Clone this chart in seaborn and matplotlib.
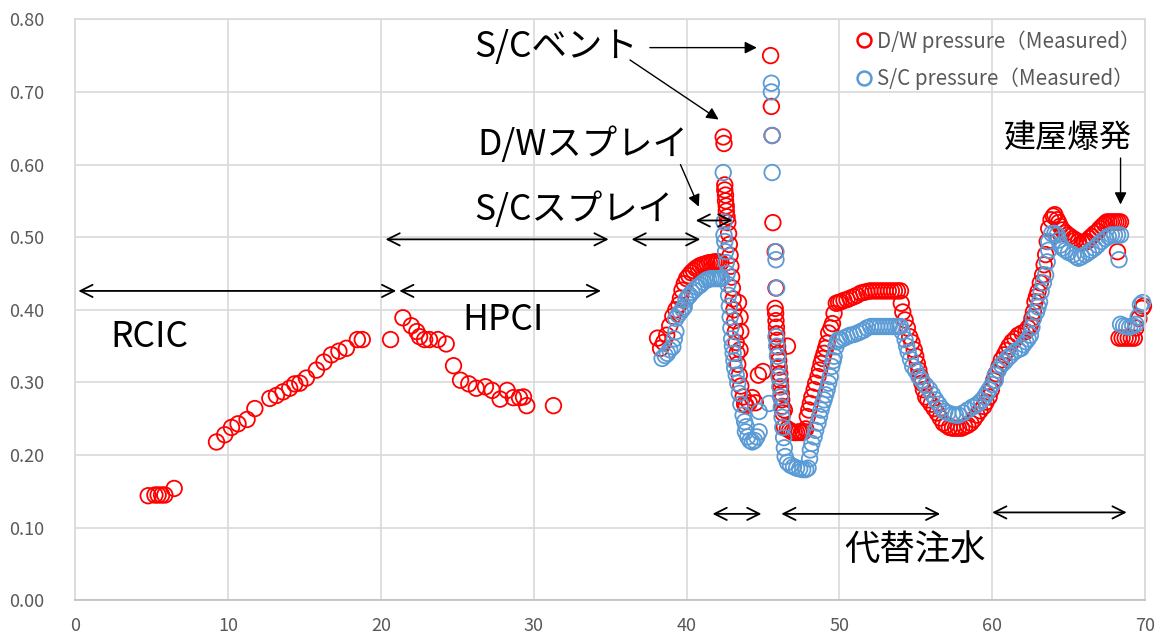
import numpy as np
import pandas as pd
import matplotlib
matplotlib.use("Agg")
import matplotlib.pyplot as plt
import seaborn as sns
from matplotlib.lines import Line2D

# ---- D/W pressure (measured), MPa abs vs hours ----
dw_x = [4.77, 5.21, 5.42, 5.65, 5.86, 6.47, 9.24, 9.78, 10.22, 10.65, 11.24, 11.75,
        12.73, 13.16, 13.59, 14.03, 14.36, 14.69, 15.12, 15.78, 16.27, 16.76, 17.25,
        17.74, 18.46, 18.78, 20.63, 21.44, 21.99, 22.35, 22.53, 22.86, 23.18, 23.73,
        24.27, 24.75, 25.21, 25.75, 26.24, 26.84, 27.28, 27.8, 28.26, 28.67, 29.07,
        29.33, 29.54, 31.29,
        38.1, 38.3, 38.5, 38.7, 38.9, 39.1, 39.3, 39.5, 39.6, 39.7, 39.85, 40.0, 40.15,
        40.3, 40.45, 40.6, 40.75, 40.9, 41.05, 41.2, 41.35, 41.5, 41.65, 41.8, 41.95,
        42.1, 42.25,
        42.4, 42.45, 42.5, 42.5, 42.55, 42.55, 42.6, 42.6, 42.65,
        42.7, 42.75, 42.8, 42.85, 42.9, 42.95, 43.0, 43.05, 43.1, 43.15, 43.2, 43.25,
        43.3, 43.35, 43.45, 43.55, 43.7, 43.8, 43.9, 44.1, 44.3, 44.5, 44.7, 45.0,
        43.4, 43.5, 43.55, 43.5,
        45.5, 45.55, 45.6, 45.65, 45.8, 45.85, 45.8, 45.83, 45.85, 45.88, 45.9, 45.93,
        45.96, 46.0, 46.03, 46.06, 46.1, 46.13, 46.16, 46.2, 46.23, 46.26, 46.3, 46.6,
        46.4, 46.4,
        46.6, 46.75, 46.9, 47.05, 47.2, 47.35, 47.5, 47.65, 47.8,
        47.9, 48.0, 48.1, 48.2, 48.35, 48.45, 48.6, 48.7, 48.8, 48.9, 49.0, 49.1, 49.2,
        49.3, 49.45, 49.55, 49.65, 49.8, 49.95, 50.1, 50.3, 50.5, 50.7, 50.95, 51.15,
        51.4, 51.6, 51.8, 52.0, 52.2, 52.4, 52.6, 52.8, 53.0, 53.2, 53.4, 53.6, 53.8,
        54.0,
        54.05, 54.15, 54.3, 54.45, 54.6, 54.75, 54.9, 55.0, 55.1, 55.2, 55.3, 55.4,
        55.5, 55.65, 55.8, 56.0, 56.2, 56.4, 56.6, 56.8, 57.0, 57.2, 57.4, 57.6, 57.8,
        58.0, 58.2, 58.4, 58.6, 58.8, 59.0, 59.2, 59.45, 59.6, 59.8, 59.95, 60.1,
        60.25, 60.45, 60.6, 60.8, 60.95, 61.1, 61.3, 61.5, 61.7, 61.95, 62.2, 62.35,
        62.5, 62.6, 62.7, 62.8, 62.9, 63.0, 63.15, 63.3, 63.4, 63.5, 63.6, 63.7, 63.85,
        64.0, 64.1, 64.25, 64.35, 64.45, 64.6, 64.8, 64.95, 65.1, 65.3, 65.45, 65.65,
        65.9, 66.05, 66.2, 66.35, 66.5, 66.7, 66.9, 67.05, 67.2, 67.35, 67.5, 67.65,
        67.8, 67.95, 68.1, 68.25, 68.4, 68.2,
        68.3, 68.5, 68.7, 68.9, 69.1, 69.3, 69.4, 69.6, 69.8, 69.9]
dw_y = [0.144, 0.145, 0.145, 0.145, 0.145, 0.154, 0.218, 0.228, 0.238, 0.243, 0.249,
        0.264, 0.278, 0.282, 0.287, 0.292, 0.298, 0.299, 0.306, 0.317, 0.328, 0.338,
        0.343, 0.347, 0.359, 0.359, 0.359, 0.389, 0.378, 0.370, 0.363, 0.359, 0.359,
        0.359, 0.353, 0.323, 0.303, 0.298, 0.292, 0.294, 0.289, 0.277, 0.289, 0.279,
        0.279, 0.280, 0.268, 0.268,
        0.361, 0.347, 0.355, 0.365, 0.378, 0.391, 0.400, 0.407, 0.416, 0.427, 0.436,
        0.443, 0.447, 0.451, 0.454, 0.457, 0.459, 0.461, 0.462, 0.463, 0.464, 0.465,
        0.465, 0.466, 0.466, 0.466, 0.465,
        0.638, 0.629, 0.572, 0.565, 0.558, 0.550, 0.543, 0.536, 0.528,
        0.520, 0.505, 0.490, 0.475, 0.460, 0.445, 0.430, 0.415, 0.400, 0.385, 0.370,
        0.355, 0.340, 0.325, 0.310, 0.295, 0.280, 0.270, 0.268, 0.272, 0.279, 0.272,
        0.310, 0.315,
        0.410, 0.390, 0.370, 0.345,
        0.750, 0.680, 0.640, 0.520, 0.480, 0.430, 0.402, 0.395, 0.385, 0.376, 0.367,
        0.358, 0.349, 0.340, 0.330, 0.321, 0.312, 0.303, 0.294, 0.285, 0.276, 0.267,
        0.258, 0.350, 0.262, 0.239,
        0.236, 0.234, 0.232, 0.231, 0.231, 0.232, 0.231, 0.232, 0.236,
        0.253, 0.262, 0.271, 0.280, 0.290, 0.299, 0.308, 0.317, 0.326, 0.333, 0.340,
        0.347, 0.354, 0.368, 0.375, 0.381, 0.395, 0.409, 0.410, 0.411, 0.413, 0.414,
        0.416, 0.418, 0.420, 0.423, 0.424, 0.425, 0.426, 0.426, 0.426, 0.426, 0.426,
        0.426, 0.426, 0.426, 0.426, 0.426, 0.426,
        0.409, 0.397, 0.386, 0.375, 0.363, 0.355, 0.345, 0.336, 0.326, 0.317, 0.308,
        0.299, 0.290, 0.280, 0.276, 0.270, 0.264, 0.258, 0.251, 0.244, 0.241, 0.238,
        0.237, 0.237, 0.237, 0.237, 0.239, 0.241, 0.244, 0.249, 0.255, 0.261, 0.267,
        0.273, 0.280, 0.290, 0.303, 0.312, 0.322, 0.331, 0.338, 0.344, 0.350, 0.356,
        0.360, 0.365, 0.368, 0.370, 0.375, 0.379, 0.388, 0.397, 0.411, 0.418, 0.425,
        0.437, 0.448, 0.462, 0.476, 0.494, 0.512, 0.524, 0.529, 0.531, 0.524, 0.520,
        0.515, 0.510, 0.506, 0.503, 0.501, 0.498, 0.496, 0.494, 0.492, 0.493, 0.494,
        0.498, 0.501, 0.505, 0.508, 0.512, 0.515, 0.518, 0.521, 0.521, 0.521, 0.521,
        0.521, 0.521, 0.521, 0.480,
        0.361, 0.361, 0.361, 0.361, 0.361, 0.361, 0.375, 0.388, 0.402, 0.405]

# ---- S/C pressure (measured) ----
sc_x = [38.4, 38.6, 38.75, 38.9, 39.1, 39.2, 39.3, 39.3, 39.45, 39.6, 39.75, 39.85,
        39.96, 40.1, 40.2, 40.35, 40.5, 40.7, 40.9, 41.1, 41.3, 41.45, 41.6, 41.75,
        41.9, 42.05, 42.2, 42.3,
        42.4, 42.45, 42.45, 42.5,
        42.55, 42.6, 42.65, 42.7, 42.75, 42.8, 42.85, 42.9, 42.95, 43.0, 43.05, 43.1,
        43.15, 43.25, 43.35, 43.45, 43.55, 43.7, 43.8, 43.9, 43.85, 44.0, 44.15, 44.3,
        44.45, 44.6, 44.75, 44.75, 45.4,
        45.55, 45.55, 45.6, 45.6, 45.85, 45.85, 45.9,
        45.85, 45.9, 45.95, 46.0, 46.05, 46.1, 46.15, 46.2, 46.25, 46.3, 46.35, 46.4,
        46.45, 46.6, 46.8, 47.0, 47.2, 47.4, 47.6, 47.8, 47.95, 48.1, 48.05,
        48.2, 48.35, 48.45, 48.6, 48.7, 48.8, 48.9, 49.0, 49.1, 49.2, 49.3, 49.4, 49.5,
        49.6, 49.65, 49.77, 49.85, 49.95, 50.1, 50.3, 50.5, 50.7, 50.95, 51.2, 51.4,
        51.6, 51.8, 52.05, 52.25, 52.45, 52.65, 52.85, 53.05, 53.25, 53.45, 53.65,
        53.85, 54.0,
        54.1, 54.3, 54.4, 54.5, 54.65, 54.8, 55.0, 55.2, 55.4, 55.65, 55.9, 56.1, 56.3,
        56.5, 56.7, 56.9, 57.1, 57.4, 57.6, 57.8, 58.1, 58.4, 58.7, 58.9, 59.1, 59.3,
        59.5, 59.65, 59.8, 60.0, 60.2, 60.2, 60.4, 60.6, 60.8, 61.0, 61.2, 61.45, 61.7,
        61.9, 62.05, 62.2, 62.35, 62.5, 62.6, 62.7, 62.9, 63.0, 63.1, 63.2, 63.35,
        63.5, 63.6, 63.7, 63.7, 63.9, 64.1, 64.25, 64.35, 64.45, 64.6, 64.8, 65.0,
        65.3, 65.5, 65.65, 65.85, 66.1, 66.3, 66.5, 66.7, 66.9, 67.15, 67.4, 67.6,
        67.8, 68.0, 68.2, 68.4, 68.3,
        68.4, 68.6, 68.8, 69.0, 69.2, 69.4, 69.55, 69.7, 69.85]
sc_y = [0.333, 0.337, 0.340, 0.345, 0.349, 0.360, 0.370, 0.388, 0.393, 0.397, 0.401,
        0.404, 0.414, 0.418, 0.420, 0.424, 0.427, 0.431, 0.434, 0.438, 0.441, 0.442,
        0.443, 0.443, 0.443, 0.443, 0.443, 0.443,
        0.589, 0.521, 0.503, 0.494,
        0.480, 0.465, 0.450, 0.435, 0.420, 0.405, 0.390, 0.375, 0.360, 0.350, 0.340,
        0.330, 0.320, 0.310, 0.299, 0.285, 0.270, 0.255, 0.246, 0.239, 0.232, 0.225,
        0.220, 0.218, 0.220, 0.225, 0.232, 0.260, 0.271,
        0.712, 0.700, 0.640, 0.589, 0.480, 0.469, 0.430,
        0.363, 0.350, 0.336, 0.322, 0.308, 0.294, 0.280, 0.266, 0.252, 0.238, 0.224,
        0.210, 0.198, 0.190, 0.186, 0.184, 0.182, 0.181, 0.180, 0.180, 0.182, 0.207,
        0.195,
        0.216, 0.225, 0.234, 0.244, 0.253, 0.262, 0.270, 0.276, 0.283, 0.290, 0.299,
        0.308, 0.322, 0.330, 0.336, 0.349, 0.356, 0.359, 0.359, 0.361, 0.363, 0.365,
        0.366, 0.368, 0.370, 0.372, 0.375, 0.377, 0.377, 0.377, 0.377, 0.377, 0.377,
        0.377, 0.377, 0.377, 0.377, 0.377,
        0.370, 0.359, 0.350, 0.342, 0.332, 0.322, 0.316, 0.308, 0.303, 0.296, 0.290,
        0.283, 0.276, 0.270, 0.264, 0.260, 0.258, 0.256, 0.255, 0.255, 0.258, 0.262,
        0.266, 0.268, 0.271, 0.275, 0.280, 0.285, 0.290, 0.297, 0.303, 0.310, 0.317,
        0.324, 0.328, 0.333, 0.337, 0.342, 0.345, 0.347, 0.352, 0.356, 0.360, 0.365,
        0.376, 0.388, 0.397, 0.404, 0.411, 0.425, 0.437, 0.448, 0.466, 0.482, 0.494,
        0.505, 0.505, 0.503, 0.496, 0.489, 0.485, 0.482, 0.479, 0.476, 0.473, 0.471,
        0.473, 0.476, 0.479, 0.482, 0.485, 0.489, 0.494, 0.498, 0.501, 0.503, 0.503,
        0.503, 0.503, 0.469,
        0.380, 0.378, 0.377, 0.376, 0.378, 0.380, 0.390, 0.407, 0.410]

x_ticks = [0, 10, 20, 30, 40, 50, 60, 70]
y_ticks = [0.0, 0.1, 0.2, 0.3, 0.4, 0.5, 0.6, 0.7, 0.8]
legend_labels = ["D/W pressure（Measured）", "S/C pressure（Measured）"]
series_colors = ["#FF0000", "#5B9BD5"]

sns.set_theme(style="white")
plt.rcParams["font.family"] = ["Noto Sans CJK JP", "DejaVu Sans"]

dw = pd.DataFrame({"t": dw_x, "p": dw_y})
sc = pd.DataFrame({"t": sc_x, "p": sc_y})

fig = plt.figure(figsize=(11.68, 6.44), dpi=100)
ax = fig.add_axes([75.3 / 1168, 43.7 / 644, 1069.7 / 1168, 581 / 644])

marker_kw = dict(marker="o", s=125, facecolor="none", linewidth=1.3, legend=False,
                 clip_on=False)
sns.scatterplot(data=dw, x="t", y="p", ax=ax, color=series_colors[0],
                edgecolor=series_colors[0], **marker_kw)
sns.scatterplot(data=sc, x="t", y="p", ax=ax, color=series_colors[1],
                edgecolor=series_colors[1], **marker_kw)

ax.set_xlim(0, 70)
ax.set_ylim(0, 0.8)
ax.set_xticks(x_ticks)
ax.set_yticks(y_ticks)
ax.set_yticklabels([f"{v:.2f}" for v in y_ticks])
ax.set_xlabel("")
ax.set_ylabel("")
ax.grid(True, color="#D9D9D9", linewidth=1.2)
ax.set_axisbelow(True)
for name, sp in ax.spines.items():
    sp.set_color("#D9D9D9")
    sp.set_linewidth(1.2)
ax.spines["bottom"].set_color("#BFBFBF")
ax.tick_params(axis="both", length=0, labelsize=13, colors="#595959")
ax.tick_params(axis="y", pad=22)
ax.tick_params(axis="x", pad=12)

# ---- annotations ----
txt_kw = dict(fontsize=25.5, color="black", va="center", ha="left")
ax.text(26.1, 0.762, "S/Cベント", **txt_kw)
ax.text(26.3, 0.627, "D/Wスプレイ", **txt_kw)
ax.text(26.1, 0.538, "S/Cスプレイ", **txt_kw)
ax.text(2.3, 0.363, "RCIC", **txt_kw)
ax.text(25.3, 0.386, "HPCI", **txt_kw)
ax.text(60.8, 0.636, "建屋爆発", fontsize=23, color="black", va="center", ha="left")
ax.text(50.3, 0.069, "代替注水", **txt_kw)

one_way = dict(arrowstyle="-|>", color="black", lw=1.0, mutation_scale=18,
               shrinkA=0, shrinkB=0)
two_way = dict(arrowstyle="<->", color="black", lw=1.3, mutation_scale=22,
               shrinkA=0, shrinkB=0)

ax.annotate("", xy=(44.6, 0.761), xytext=(37.6, 0.761), arrowprops=one_way)
ax.annotate("", xy=(42.1, 0.662), xytext=(36.3, 0.744), arrowprops=one_way)
ax.annotate("", xy=(40.8, 0.542), xytext=(39.6, 0.600), arrowprops=one_way)
ax.annotate("", xy=(68.4, 0.545), xytext=(68.4, 0.609), arrowprops=one_way)

for x0, x1, y in [(20.3, 34.9, 0.497), (36.4, 40.9, 0.497), (40.6, 43.0, 0.523),
                  (0.2, 21.0, 0.426), (21.2, 34.4, 0.426),
                  (41.7, 44.9, 0.119), (46.2, 56.6, 0.119), (60.0, 68.8, 0.121)]:
    ax.annotate("", xy=(x1, y), xytext=(x0, y), arrowprops=two_way)

handles = [Line2D([], [], marker="o", linestyle="none", markersize=10,
                  markerfacecolor="none", markeredgecolor=c, markeredgewidth=1.8)
           for c in series_colors]
leg = fig.legend(handles, legend_labels, loc="upper left",
                 bbox_to_anchor=(857 / 1168, 1 - 30 / 644), frameon=False,
                 fontsize=14.8, handlelength=0.7, handletextpad=0.25,
                 labelspacing=0.72, borderpad=0, borderaxespad=0)
for t in leg.get_texts():
    t.set_color("#595959")

fig.savefig("out.png", dpi=100)
